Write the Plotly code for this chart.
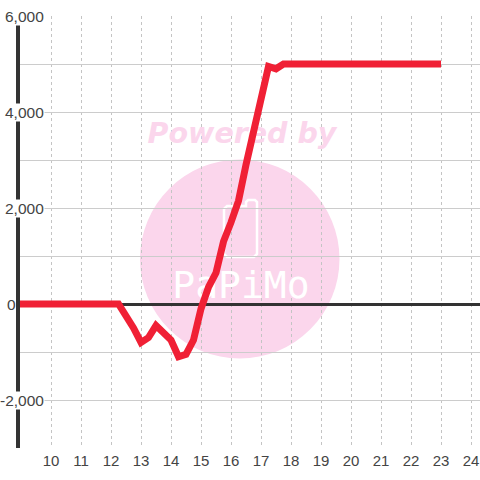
import plotly.graph_objects as go

hours = [8.9, 12.25, 12.75, 13, 13.25, 13.5, 14, 14.25, 14.5, 14.75, 15, 15.25, 15.5, 15.75, 16, 16.25, 16.5, 16.75, 17, 17.25, 17.5, 17.75, 23]
values = [0, 0, -500, -800, -700, -450, -750, -1100, -1050, -750, -100, 350, 650, 1300, 1700, 2150, 2900, 3600, 4350, 4950, 4900, 5000, 5000]
x_ticks = list(range(10, 25))
y_grid = list(range(-3000, 7000, 1000))
y_labels = [6000, 4000, 2000, 0, -2000]
y_label_text = ["6,000", "4,000", "2,000", "0", "-2,000"]
y_label_right = [44.5, 44.5, 44.5, 16.5, 44.5]
wm_title = "Powered by"
wm_logo = "PaPiMo"

PINK = "#fbd6ec"
INK = "#444444"

def px(v):
    return 10 + (v - 51) / 30

def py(v):
    return (304 - v) / 48 * 1000

logo_pts = [(224, 209), (227, 206), (246, 206), (246, 202), (248, 200), (255, 200), (257, 202), (257, 254), (254, 257), (227, 257), (224, 254)]
logo_path = "M " + " L ".join(f"{px(a):.3f},{py(b):.1f}" for a, b in logo_pts) + " Z"

fig = go.Figure()
fig.add_trace(go.Scatter(x=[px(242)], y=[py(136)], mode="text", text=[wm_title], hoverinfo="skip",
                         textfont=dict(family="DejaVu Sans", size=28.5, color=PINK, weight="bold", style="italic"),
                         cliponaxis=False))
fig.add_trace(go.Scatter(x=[px(241)], y=[py(288)], mode="text", text=[wm_logo], hoverinfo="skip",
                         textfont=dict(family="DejaVu Sans Mono", size=38, color="white"),
                         cliponaxis=False))
fig.add_trace(go.Scatter(x=hours, y=values, mode="lines", cliponaxis=False,
                         line=dict(color="#f02035", width=7, shape="linear")))

fig.update_layout(
    width=480, height=480, showlegend=False,
    margin=dict(l=20, r=0, t=16, b=32, pad=0),
    paper_bgcolor="white", plot_bgcolor="rgba(0,0,0,0)",
    font=dict(family="Liberation Sans", size=15, color=INK),
    shapes=[
        dict(type="circle", xref="x", yref="y", layer="below", x0=px(140), x1=px(339.5), y0=py(159.5), y1=py(358.5),
             fillcolor=PINK, line=dict(width=0)),
        dict(type="path", xref="x", yref="y", layer="below", path=logo_path, line=dict(color="white", width=2.5)),
    ],
    annotations=[
        dict(x=(xr - 20) / 460, xref="paper", y=v, yref="y", text=t, showarrow=False, xanchor="right", yanchor="middle",
             bgcolor="white" if t != "0" else "rgba(0,0,0,0)", borderpad=0, font=dict(family="Liberation Sans", size=15.5, color=INK))
        for v, t, xr in zip(y_labels, y_label_text, y_label_right)
    ],
)
fig.update_xaxes(range=[px(20), px(480)], tickmode="array", tickvals=x_ticks, ticks="", showline=False,
                 showgrid=True, gridcolor="#c4c4c4", griddash="dot", gridwidth=1, zeroline=False, ticklabelstandoff=2,
                 tickfont=dict(family="Liberation Sans", size=15, color=INK), fixedrange=True)
fig.update_yaxes(range=[-3000, 6000], tickmode="array", tickvals=y_grid, showticklabels=False, ticks="",
                 showgrid=True, gridcolor="#cccccc", gridwidth=1, zeroline=True, zerolinecolor="#333333", zerolinewidth=3,
                 showline=True, linecolor="#333333", linewidth=4, fixedrange=True)
fig.write_html("out.html", config={"displayModeBar": False},
               post_script="document.body.style.margin='0';document.documentElement.style.overflow='hidden';")
